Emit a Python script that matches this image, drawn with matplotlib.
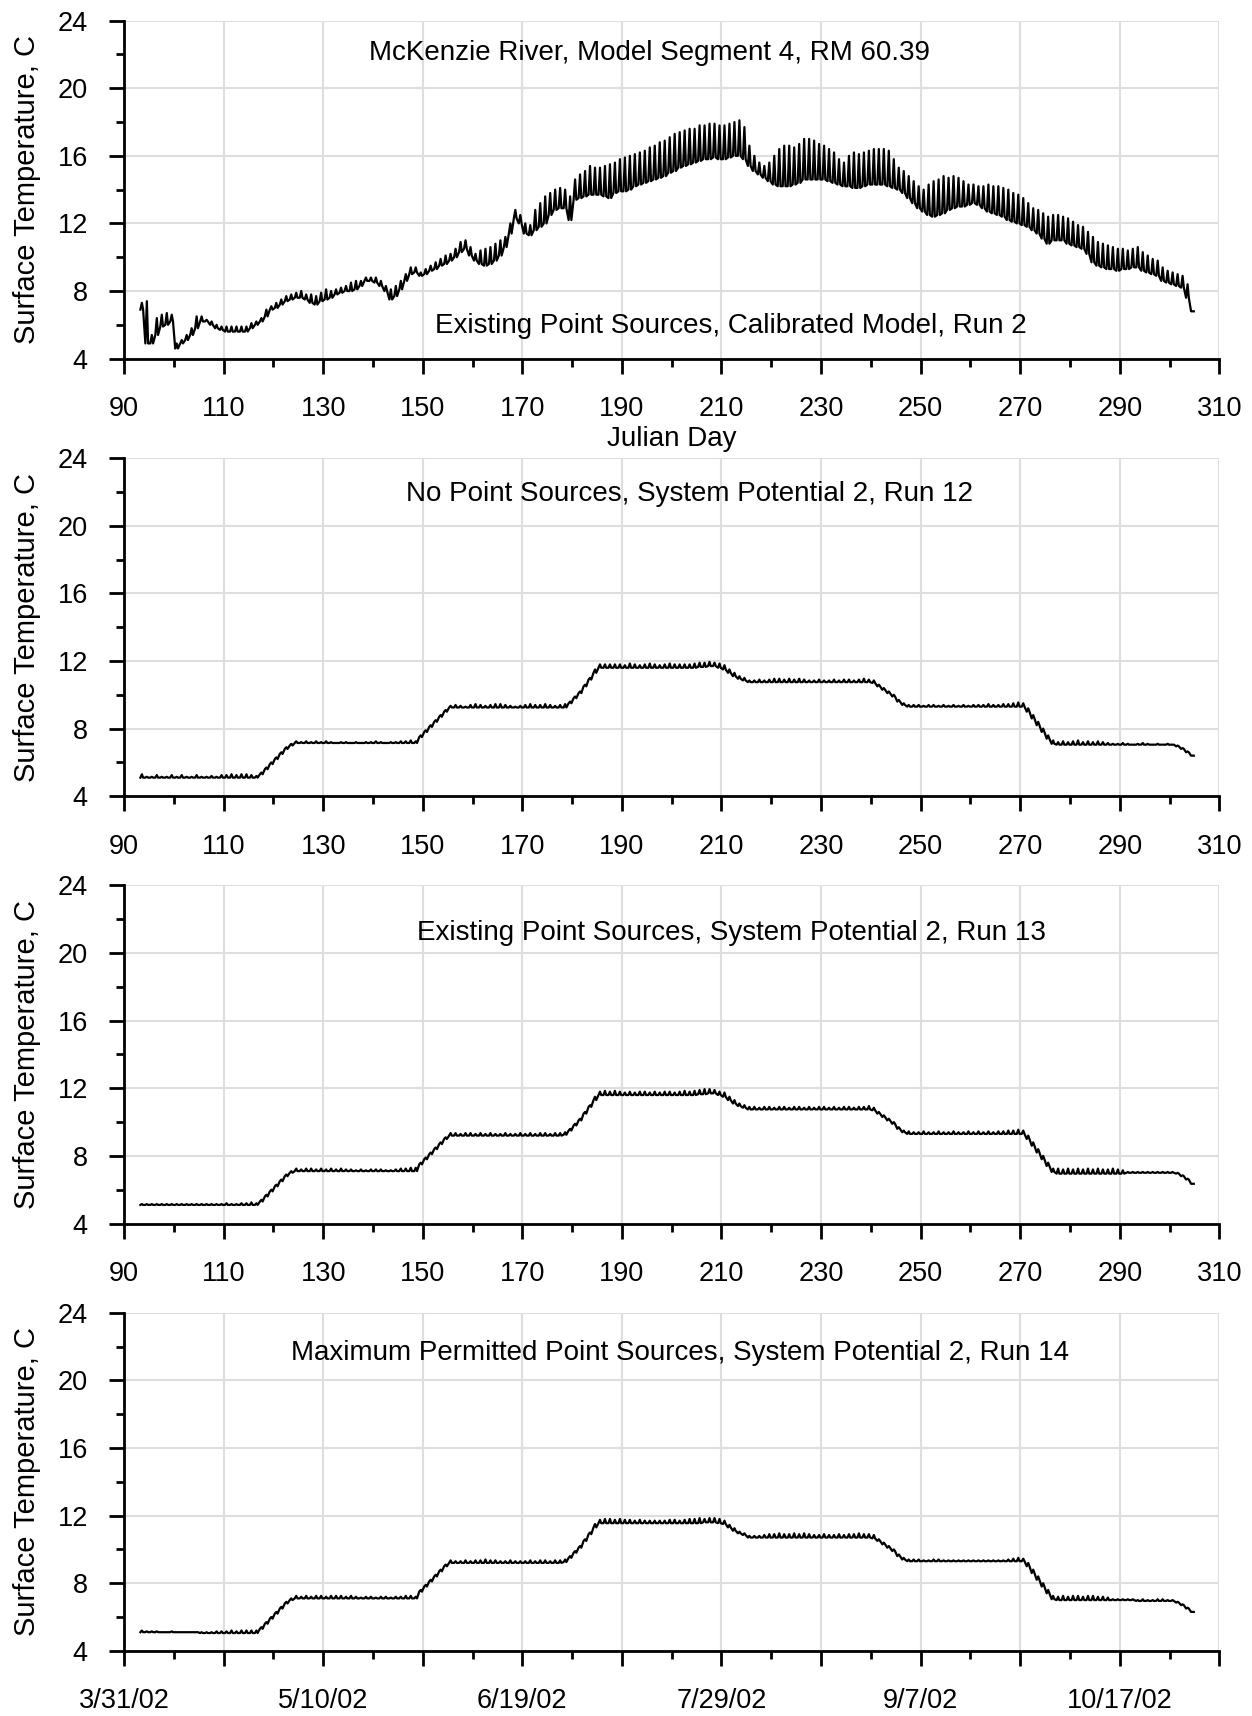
import numpy as np
import matplotlib
matplotlib.use("Agg")
import matplotlib.pyplot as plt

plt.rcParams['font.family'] = ['Liberation Sans', 'DejaVu Sans']

# model days 93 .. 304 (julian day), one low and one high reading per day
days = np.arange(93, 305)

# Run 2 - existing point sources, calibrated model
run2_low = [
    6.9, 4.9, 4.9, 5.4, 5.9, 6.0, 6.2, 4.6, 4.9, 5.1, 5.4, 5.8,
    6.2, 6.2, 6.0, 5.8, 5.7, 5.6, 5.6, 5.6, 5.6, 5.6, 5.8, 6.0,
    6.2, 6.5, 6.9, 7.0, 7.2, 7.4, 7.5, 7.6, 7.6, 7.5, 7.3, 7.2,
    7.4, 7.5, 7.6, 7.8, 7.9, 8.0, 8.0, 8.1, 8.3, 8.6, 8.6, 8.5,
    8.3, 8.0, 7.5, 7.7, 8.1, 8.6, 9.0, 9.1, 8.9, 9.0, 9.2, 9.3,
    9.5, 9.6, 9.8, 10.0, 10.3, 10.5, 10.1, 9.8, 9.6, 9.5, 9.6, 9.8,
    10.1, 10.6, 11.4, 12.3, 12.0, 11.4, 11.3, 11.6, 11.8, 12.0, 12.5, 12.8,
    12.9, 12.9, 12.2, 13.4, 13.5, 13.6, 13.7, 13.7, 13.7, 13.6, 13.5, 13.8,
    13.9, 13.9, 14.0, 14.2, 14.3, 14.4, 14.5, 14.6, 14.7, 14.8, 15.0, 15.1,
    15.3, 15.4, 15.5, 15.6, 15.7, 15.8, 15.8, 15.9, 15.8, 15.8, 15.9, 16.0,
    16.0, 15.8, 15.4, 15.1, 14.9, 14.7, 14.5, 14.3, 14.2, 14.2, 14.2, 14.3,
    14.4, 14.6, 14.6, 14.6, 14.6, 14.6, 14.5, 14.4, 14.3, 14.2, 14.2, 14.1,
    14.1, 14.2, 14.3, 14.3, 14.3, 14.3, 14.2, 14.1, 14.0, 13.8, 13.5, 13.2,
    12.9, 12.7, 12.5, 12.4, 12.5, 12.6, 12.8, 12.9, 13.0, 13.0, 13.1, 13.2,
    13.1, 12.9, 12.7, 12.6, 12.5, 12.4, 12.2, 12.1, 12.0, 11.9, 11.8, 11.6,
    11.4, 11.1, 10.8, 11.0, 11.0, 11.0, 10.8, 10.7, 10.6, 10.5, 10.2, 9.7,
    9.5, 9.4, 9.3, 9.3, 9.2, 9.3, 9.3, 9.4, 9.4, 9.2, 9.1, 9.0,
    8.9, 8.6, 8.5, 8.4, 8.3, 8.2, 7.6, 6.8,
]
run2_high = [
    7.3, 7.4, 5.4, 6.4, 6.6, 6.7, 6.6, 4.9, 5.1, 5.4, 5.8, 6.5,
    6.5, 6.3, 6.2, 6.0, 5.9, 5.9, 5.9, 5.9, 5.9, 5.9, 6.1, 6.2,
    6.4, 6.9, 7.1, 7.3, 7.5, 7.7, 7.8, 7.9, 8.0, 7.8, 7.8, 7.7,
    7.9, 8.1, 8.0, 8.1, 8.2, 8.3, 8.5, 8.6, 8.6, 8.8, 8.8, 8.8,
    8.6, 8.3, 8.1, 8.3, 8.6, 9.0, 9.4, 9.4, 9.1, 9.3, 9.5, 9.7,
    9.9, 10.1, 10.2, 10.5, 10.9, 11.0, 10.6, 10.2, 10.4, 10.5, 10.6, 10.8,
    11.0, 11.2, 12.0, 12.8, 12.5, 12.0, 11.9, 12.8, 13.2, 13.6, 13.8, 14.0,
    14.1, 14.0, 13.6, 14.6, 14.9, 15.1, 15.4, 15.3, 15.3, 15.4, 15.5, 15.6,
    15.8, 15.9, 16.0, 16.1, 16.2, 16.3, 16.5, 16.6, 16.8, 16.9, 17.1, 17.3,
    17.4, 17.5, 17.6, 17.6, 17.8, 17.8, 17.9, 17.9, 17.8, 17.8, 17.9, 18.0,
    18.1, 17.7, 16.6, 16.0, 15.6, 15.4, 15.6, 16.0, 16.4, 16.6, 16.6, 16.5,
    16.7, 17.0, 17.0, 16.9, 16.7, 16.6, 16.4, 16.2, 15.8, 15.6, 16.0, 16.2,
    16.1, 16.2, 16.3, 16.4, 16.4, 16.4, 16.3, 15.8, 15.3, 15.1, 14.8, 14.5,
    14.2, 14.0, 14.3, 14.5, 14.6, 14.8, 14.7, 14.8, 14.7, 14.5, 14.3, 14.3,
    14.2, 14.2, 14.3, 14.2, 14.2, 14.1, 14.0, 13.8, 13.7, 13.5, 13.2, 12.9,
    12.8, 12.6, 12.4, 12.5, 12.5, 12.4, 12.3, 12.1, 11.9, 11.8, 11.5, 11.2,
    10.9, 10.8, 10.7, 10.6, 10.5, 10.5, 10.4, 10.5, 10.6, 10.3, 10.1, 9.9,
    9.8, 9.4, 9.2, 9.1, 9.0, 8.9, 8.4, 6.8,
]

# Run 12 - no point sources, system potential 2
run12_low = [
    5.10, 5.10, 5.10, 5.10, 5.10, 5.10, 5.10, 5.10, 5.10, 5.10, 5.10, 5.10,
    5.10, 5.10, 5.10, 5.10, 5.10, 5.10, 5.10, 5.10, 5.10, 5.10, 5.10, 5.10,
    5.30, 5.60, 5.90, 6.20, 6.50, 6.80, 7.00, 7.15, 7.15, 7.15, 7.15, 7.15,
    7.15, 7.15, 7.15, 7.15, 7.15, 7.15, 7.15, 7.15, 7.15, 7.15, 7.15, 7.15,
    7.15, 7.15, 7.15, 7.15, 7.15, 7.15, 7.15, 7.15, 7.50, 7.80, 8.10, 8.40,
    8.70, 9.00, 9.25, 9.25, 9.25, 9.25, 9.25, 9.25, 9.25, 9.25, 9.25, 9.25,
    9.25, 9.25, 9.25, 9.25, 9.25, 9.25, 9.25, 9.25, 9.25, 9.25, 9.25, 9.25,
    9.25, 9.25, 9.50, 9.80, 10.10, 10.50, 10.90, 11.30, 11.60, 11.60, 11.60, 11.60,
    11.60, 11.60, 11.60, 11.60, 11.60, 11.60, 11.60, 11.60, 11.60, 11.60, 11.60, 11.60,
    11.60, 11.60, 11.60, 11.60, 11.65, 11.65, 11.70, 11.70, 11.60, 11.50, 11.30, 11.10,
    10.95, 10.85, 10.75, 10.75, 10.75, 10.75, 10.75, 10.75, 10.75, 10.75, 10.75, 10.75,
    10.75, 10.75, 10.75, 10.75, 10.75, 10.75, 10.75, 10.75, 10.75, 10.75, 10.75, 10.75,
    10.75, 10.75, 10.75, 10.70, 10.50, 10.30, 10.10, 9.90, 9.60, 9.40, 9.30, 9.30,
    9.30, 9.30, 9.30, 9.30, 9.30, 9.30, 9.30, 9.30, 9.30, 9.30, 9.30, 9.30,
    9.30, 9.30, 9.30, 9.30, 9.30, 9.30, 9.30, 9.30, 9.30, 9.30, 9.00, 8.60,
    8.20, 7.80, 7.40, 7.10, 7.05, 7.05, 7.05, 7.05, 7.05, 7.05, 7.05, 7.05,
    7.05, 7.05, 7.05, 7.05, 7.05, 7.05, 7.05, 7.05, 7.05, 7.05, 7.05, 7.05,
    7.05, 7.05, 7.05, 7.05, 6.95, 6.80, 6.60, 6.40,
]
run12_high = [
    5.30, 5.15, 5.15, 5.25, 5.15, 5.15, 5.25, 5.15, 5.25, 5.15, 5.15, 5.25,
    5.15, 5.15, 5.20, 5.15, 5.25, 5.25, 5.30, 5.25, 5.30, 5.30, 5.25, 5.20,
    5.40, 5.70, 6.00, 6.30, 6.60, 6.90, 7.10, 7.25, 7.20, 7.25, 7.20, 7.25,
    7.20, 7.25, 7.20, 7.15, 7.20, 7.20, 7.15, 7.20, 7.15, 7.20, 7.20, 7.25,
    7.20, 7.15, 7.20, 7.20, 7.25, 7.25, 7.30, 7.25, 7.60, 7.90, 8.20, 8.50,
    8.80, 9.10, 9.35, 9.40, 9.35, 9.30, 9.40, 9.45, 9.40, 9.35, 9.40, 9.45,
    9.45, 9.40, 9.35, 9.30, 9.35, 9.40, 9.45, 9.40, 9.40, 9.45, 9.40, 9.35,
    9.40, 9.45, 9.60, 9.90, 10.20, 10.60, 11.00, 11.50, 11.80, 11.80, 11.80, 11.80,
    11.80, 11.75, 11.85, 11.80, 11.75, 11.80, 11.85, 11.80, 11.75, 11.80, 11.85, 11.80,
    11.80, 11.80, 11.80, 11.85, 11.90, 11.90, 11.95, 11.90, 11.85, 11.75, 11.50, 11.30,
    11.10, 11.00, 10.85, 10.85, 10.90, 10.85, 10.90, 10.95, 10.95, 10.90, 10.95, 10.90,
    10.95, 10.90, 10.85, 10.85, 10.90, 10.85, 10.85, 10.90, 10.85, 10.90, 10.90, 10.85,
    10.90, 10.95, 10.90, 10.85, 10.60, 10.40, 10.20, 10.00, 9.70, 9.50, 9.40, 9.40,
    9.40, 9.35, 9.40, 9.40, 9.35, 9.40, 9.35, 9.40, 9.35, 9.40, 9.35, 9.40,
    9.40, 9.40, 9.45, 9.40, 9.40, 9.45, 9.45, 9.50, 9.55, 9.50, 9.20, 8.80,
    8.40, 8.00, 7.60, 7.30, 7.20, 7.25, 7.20, 7.25, 7.30, 7.20, 7.25, 7.20,
    7.25, 7.20, 7.15, 7.10, 7.10, 7.15, 7.10, 7.05, 7.10, 7.15, 7.10, 7.05,
    7.10, 7.05, 7.10, 7.05, 7.00, 6.85, 6.65, 6.40,
]

# Run 13 - existing point sources, system potential 2
run13_low = [
    5.10, 5.10, 5.10, 5.10, 5.10, 5.10, 5.10, 5.10, 5.10, 5.10, 5.10, 5.10,
    5.10, 5.10, 5.10, 5.10, 5.10, 5.10, 5.10, 5.10, 5.10, 5.10, 5.10, 5.10,
    5.30, 5.60, 5.90, 6.20, 6.50, 6.80, 7.00, 7.10, 7.10, 7.10, 7.10, 7.10,
    7.10, 7.10, 7.10, 7.10, 7.10, 7.10, 7.10, 7.10, 7.10, 7.10, 7.10, 7.10,
    7.10, 7.10, 7.10, 7.10, 7.10, 7.10, 7.10, 7.10, 7.50, 7.80, 8.10, 8.40,
    8.70, 9.00, 9.20, 9.20, 9.20, 9.20, 9.20, 9.20, 9.20, 9.20, 9.20, 9.20,
    9.20, 9.20, 9.20, 9.20, 9.20, 9.20, 9.20, 9.20, 9.20, 9.20, 9.20, 9.20,
    9.20, 9.25, 9.50, 9.80, 10.10, 10.50, 10.90, 11.30, 11.60, 11.60, 11.60, 11.60,
    11.60, 11.60, 11.60, 11.60, 11.60, 11.60, 11.60, 11.60, 11.60, 11.60, 11.60, 11.60,
    11.60, 11.60, 11.60, 11.60, 11.65, 11.65, 11.70, 11.70, 11.60, 11.50, 11.30, 11.10,
    10.95, 10.85, 10.75, 10.75, 10.75, 10.75, 10.75, 10.75, 10.75, 10.75, 10.75, 10.75,
    10.75, 10.75, 10.75, 10.75, 10.75, 10.75, 10.75, 10.75, 10.75, 10.75, 10.75, 10.75,
    10.75, 10.75, 10.75, 10.70, 10.50, 10.30, 10.10, 9.90, 9.60, 9.40, 9.30, 9.30,
    9.30, 9.30, 9.30, 9.30, 9.30, 9.30, 9.30, 9.30, 9.30, 9.30, 9.30, 9.30,
    9.30, 9.30, 9.30, 9.30, 9.30, 9.30, 9.30, 9.30, 9.30, 9.30, 9.00, 8.60,
    8.20, 7.80, 7.40, 7.05, 6.95, 6.95, 6.95, 6.95, 6.95, 6.95, 6.95, 6.95,
    6.95, 6.95, 6.95, 6.95, 6.95, 6.95, 7.00, 7.00, 7.00, 7.00, 7.00, 7.00,
    7.00, 7.00, 7.00, 7.00, 6.95, 6.80, 6.60, 6.35,
]
run13_high = [
    5.15, 5.15, 5.15, 5.15, 5.15, 5.15, 5.15, 5.15, 5.15, 5.15, 5.15, 5.15,
    5.15, 5.15, 5.15, 5.15, 5.15, 5.20, 5.15, 5.15, 5.20, 5.20, 5.25, 5.20,
    5.40, 5.70, 6.00, 6.30, 6.60, 6.90, 7.10, 7.25, 7.20, 7.25, 7.25, 7.20,
    7.25, 7.20, 7.25, 7.20, 7.25, 7.20, 7.20, 7.15, 7.20, 7.15, 7.20, 7.20,
    7.20, 7.15, 7.15, 7.20, 7.25, 7.25, 7.30, 7.30, 7.60, 7.90, 8.20, 8.50,
    8.80, 9.10, 9.35, 9.35, 9.30, 9.35, 9.35, 9.30, 9.35, 9.30, 9.35, 9.30,
    9.30, 9.35, 9.30, 9.30, 9.35, 9.30, 9.35, 9.30, 9.35, 9.35, 9.30, 9.35,
    9.35, 9.40, 9.60, 9.90, 10.20, 10.60, 11.00, 11.50, 11.80, 11.85, 11.80, 11.85,
    11.80, 11.75, 11.80, 11.75, 11.80, 11.80, 11.75, 11.80, 11.75, 11.80, 11.80, 11.75,
    11.80, 11.85, 11.80, 11.85, 11.90, 11.95, 11.95, 11.90, 11.80, 11.75, 11.50, 11.30,
    11.10, 11.00, 10.90, 10.90, 10.85, 10.90, 10.90, 10.85, 10.90, 10.90, 10.85, 10.90,
    10.90, 10.85, 10.90, 10.85, 10.90, 10.90, 10.85, 10.90, 10.85, 10.90, 10.90, 10.85,
    10.90, 10.90, 10.95, 10.85, 10.60, 10.40, 10.20, 10.00, 9.70, 9.50, 9.45, 9.40,
    9.40, 9.45, 9.40, 9.40, 9.45, 9.40, 9.40, 9.45, 9.40, 9.40, 9.45, 9.40,
    9.45, 9.40, 9.45, 9.40, 9.45, 9.45, 9.50, 9.50, 9.55, 9.50, 9.20, 8.80,
    8.40, 8.00, 7.60, 7.25, 7.25, 7.20, 7.25, 7.20, 7.25, 7.20, 7.25, 7.20,
    7.25, 7.20, 7.20, 7.25, 7.20, 7.15, 7.05, 7.05, 7.05, 7.05, 7.05, 7.05,
    7.05, 7.05, 7.05, 7.05, 7.00, 6.85, 6.65, 6.35,
]

# Run 14 - maximum permitted point sources, system potential 2
run14_low = [
    5.10, 5.10, 5.10, 5.10, 5.10, 5.10, 5.10, 5.10, 5.10, 5.10, 5.10, 5.10,
    5.05, 5.05, 5.05, 5.05, 5.05, 5.05, 5.05, 5.05, 5.05, 5.05, 5.05, 5.05,
    5.30, 5.60, 5.90, 6.20, 6.50, 6.80, 7.00, 7.10, 7.10, 7.10, 7.10, 7.10,
    7.10, 7.10, 7.10, 7.10, 7.10, 7.10, 7.10, 7.10, 7.10, 7.10, 7.10, 7.10,
    7.10, 7.10, 7.10, 7.10, 7.10, 7.10, 7.10, 7.10, 7.50, 7.80, 8.10, 8.40,
    8.70, 9.00, 9.20, 9.20, 9.20, 9.20, 9.20, 9.20, 9.20, 9.20, 9.20, 9.20,
    9.20, 9.20, 9.20, 9.20, 9.20, 9.20, 9.20, 9.20, 9.20, 9.20, 9.20, 9.20,
    9.20, 9.25, 9.50, 9.80, 10.10, 10.50, 10.90, 11.30, 11.55, 11.55, 11.55, 11.55,
    11.55, 11.55, 11.55, 11.55, 11.55, 11.55, 11.55, 11.55, 11.55, 11.55, 11.55, 11.55,
    11.55, 11.55, 11.55, 11.55, 11.55, 11.60, 11.60, 11.60, 11.55, 11.50, 11.30, 11.10,
    10.95, 10.85, 10.70, 10.70, 10.70, 10.70, 10.70, 10.70, 10.70, 10.70, 10.70, 10.70,
    10.70, 10.70, 10.70, 10.70, 10.70, 10.70, 10.70, 10.70, 10.70, 10.70, 10.70, 10.70,
    10.70, 10.70, 10.70, 10.65, 10.50, 10.30, 10.10, 9.90, 9.60, 9.40, 9.30, 9.30,
    9.30, 9.30, 9.30, 9.30, 9.30, 9.30, 9.30, 9.30, 9.30, 9.30, 9.30, 9.30,
    9.30, 9.30, 9.30, 9.30, 9.30, 9.30, 9.30, 9.30, 9.30, 9.30, 9.00, 8.60,
    8.20, 7.80, 7.40, 7.05, 7.00, 7.00, 7.00, 7.00, 7.00, 7.00, 7.00, 7.00,
    7.00, 7.00, 7.00, 7.00, 7.00, 7.00, 7.00, 7.00, 6.95, 6.95, 6.95, 6.95,
    6.95, 6.95, 6.95, 6.95, 6.85, 6.70, 6.50, 6.30,
]
run14_high = [
    5.20, 5.15, 5.15, 5.15, 5.10, 5.10, 5.15, 5.10, 5.10, 5.10, 5.10, 5.10,
    5.10, 5.10, 5.10, 5.15, 5.15, 5.15, 5.20, 5.15, 5.20, 5.20, 5.20, 5.20,
    5.40, 5.70, 6.00, 6.30, 6.60, 6.90, 7.10, 7.25, 7.20, 7.25, 7.20, 7.25,
    7.25, 7.20, 7.25, 7.25, 7.25, 7.20, 7.25, 7.20, 7.15, 7.20, 7.20, 7.15,
    7.20, 7.20, 7.15, 7.20, 7.20, 7.25, 7.25, 7.20, 7.60, 7.90, 8.20, 8.50,
    8.80, 9.10, 9.35, 9.30, 9.30, 9.35, 9.30, 9.35, 9.35, 9.40, 9.35, 9.35,
    9.30, 9.30, 9.35, 9.30, 9.30, 9.30, 9.35, 9.30, 9.35, 9.35, 9.30, 9.35,
    9.35, 9.40, 9.60, 9.90, 10.20, 10.60, 11.00, 11.50, 11.75, 11.80, 11.80, 11.75,
    11.80, 11.75, 11.75, 11.70, 11.75, 11.70, 11.70, 11.70, 11.70, 11.70, 11.75, 11.75,
    11.70, 11.75, 11.80, 11.80, 11.85, 11.80, 11.85, 11.85, 11.80, 11.70, 11.45, 11.25,
    11.05, 10.95, 10.80, 10.80, 10.80, 10.85, 10.90, 10.90, 10.95, 10.90, 10.90, 10.95,
    10.90, 10.95, 10.90, 10.85, 10.85, 10.90, 10.85, 10.85, 10.90, 10.85, 10.90, 10.90,
    10.95, 10.90, 10.90, 10.85, 10.60, 10.40, 10.20, 10.00, 9.70, 9.50, 9.40, 9.40,
    9.40, 9.35, 9.35, 9.40, 9.40, 9.35, 9.35, 9.35, 9.35, 9.35, 9.35, 9.35,
    9.35, 9.35, 9.35, 9.35, 9.35, 9.35, 9.40, 9.45, 9.50, 9.45, 9.20, 8.80,
    8.40, 8.00, 7.60, 7.25, 7.20, 7.25, 7.20, 7.25, 7.25, 7.20, 7.25, 7.25,
    7.20, 7.20, 7.15, 7.05, 7.05, 7.05, 7.05, 7.05, 7.00, 7.05, 7.00, 7.00,
    7.05, 7.05, 7.00, 7.00, 6.90, 6.75, 6.55, 6.30,
]

panel_titles = [
    "McKenzie River, Model Segment 4, RM 60.39",
    "No Point Sources, System Potential 2, Run 12",
    "Existing Point Sources, System Potential 2, Run 13",
    "Maximum Permitted Point Sources, System Potential 2, Run 14",
]
run1_note = "Existing Point Sources, Calibrated Model, Run 2"
date_ticks = [90, 130, 170, 210, 250, 290]
date_labels = ["3/31/02", "5/10/02", "6/19/02", "7/29/02", "9/7/02", "10/17/02"]

series = [
    (run2_low, run2_high),
    (run12_low, run12_high),
    (run13_low, run13_high),
    (run14_low, run14_high),
]
title_pos = [(195.5, 22.1), (203.5, 21.9), (212.0, 21.2), (201.7, 21.6)]
bottoms = [0.791, 0.536, 0.287, 0.038]

fig = plt.figure(figsize=(12.52, 17.16), dpi=100)

for i, (lo, hi) in enumerate(series):
    ax = fig.add_axes([0.099, bottoms[i], 0.875, 0.197])
    # daily minimum, afternoon peak, back to the minimum in the evening
    t = np.column_stack([days + 0.3, days + 0.6, days + 0.85]).ravel()
    v = np.column_stack([lo, hi, lo]).ravel()
    ax.plot(t, v, color='black', lw=1.6)

    ax.set_xlim(90, 310)
    ax.set_ylim(4, 24)
    ax.set_xticks(np.arange(90, 311, 20))
    ax.set_xticks(np.arange(100, 311, 20), minor=True)
    ax.set_yticks(np.arange(4, 25, 4))
    ax.set_yticks(np.arange(6, 24, 4), minor=True)
    ax.grid(which='major', color='#dedede', lw=1.5)
    ax.set_axisbelow(True)
    for s in ['top', 'right']:
        ax.spines[s].set_visible(False)
    for s in ['left', 'bottom']:
        ax.spines[s].set_linewidth(2)
    ax.tick_params(which='major', direction='out', length=11, width=2,
                   labelsize=19.5)
    ax.tick_params(which='minor', direction='out', length=5.5, width=2)
    ax.tick_params(axis='x', which='major', pad=16)
    ax.tick_params(axis='y', which='major', pad=15)
    ax.set_ylabel("Surface Temperature, C", fontsize=21)
    ax.yaxis.set_label_coords(-0.076, 0.5)

    if i == 3:
        ax.set_xticklabels([date_labels[date_ticks.index(d)] if d in date_ticks else ""
                            for d in range(90, 311, 20)])
    tx, ty = title_pos[i]
    ax.text(tx, ty, panel_titles[i], fontsize=20, ha='center', va='center')
    if i == 0:
        ax.text(211.8, 5.95, run1_note, fontsize=20, ha='center', va='center')
        ax.set_xlabel("Julian Day", fontsize=20, labelpad=3)

fig.savefig("out.png", dpi=100)
